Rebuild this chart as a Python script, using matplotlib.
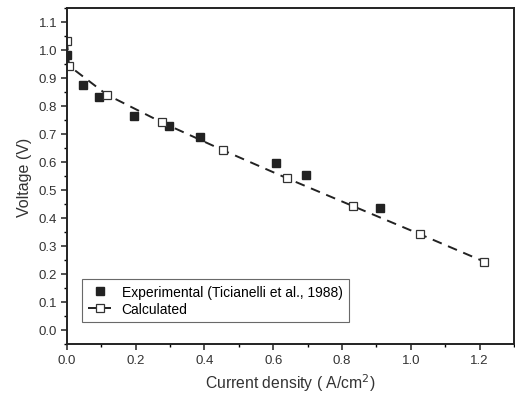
import matplotlib
matplotlib.use("Agg")
import matplotlib.pyplot as plt
from matplotlib.ticker import MultipleLocator

plt.rcParams['font.family'] = ['Liberation Sans', 'DejaVu Sans']

# experimental points (Ticianelli et al., 1988)
exp_j = [0.0, 0.046, 0.093, 0.194, 0.296, 0.388, 0.609, 0.696, 0.909]
exp_v = [0.982, 0.875, 0.830, 0.765, 0.727, 0.688, 0.595, 0.552, 0.434]

# calculated curve
calc_j = [0.0, 0.006, 0.116, 0.276, 0.455, 0.641, 0.832, 1.026, 1.213]
calc_v = [1.033, 0.943, 0.840, 0.741, 0.641, 0.541, 0.442, 0.342, 0.244]

fig = plt.figure(figsize=(5.15, 4.02), dpi=100)
ax = fig.add_axes([0.130, 0.142, 0.868, 0.836])

ax.plot(exp_j, exp_v, 's', color='#222222', markersize=5.5,
        label='Experimental (Ticianelli et al., 1988)')
ax.plot(calc_j, calc_v, '--s', color='#222222', markerfacecolor='white',
        markeredgecolor='#333333', markersize=6, markeredgewidth=0.9,
        linewidth=1.4, dashes=(5, 3.5), label='Calculated')

ax.set_xlim(0, 1.3)
ax.set_ylim(-0.05, 1.15)
ax.xaxis.set_major_locator(MultipleLocator(0.2))
ax.xaxis.set_minor_locator(MultipleLocator(0.1))
ax.yaxis.set_major_locator(MultipleLocator(0.1))
ax.yaxis.set_minor_locator(MultipleLocator(0.05))
ax.tick_params(which='major', direction='out', length=4.5, width=1.2,
               labelsize=9.5, colors='#333333', pad=2.5)
ax.tick_params(which='minor', direction='out', length=2.5, width=1.0)
for s in ax.spines.values():
    s.set_linewidth(1.4)
    s.set_color('#222222')

ax.set_xlabel('Current density ( A/cm$^2$)', fontsize=11.3, color='#333333', labelpad=4)
ax.set_ylabel('Voltage (V)', fontsize=11.5, color='#333333', labelpad=5)

leg = ax.legend(loc='lower left', bbox_to_anchor=(0.034, 0.065), fontsize=10,
                frameon=True, fancybox=False, edgecolor='#444444',
                handlelength=1.6, handletextpad=0.8, borderpad=0.45,
                labelspacing=0.2, borderaxespad=0)
leg.get_frame().set_linewidth(0.8)

fig.savefig('out.png', dpi=100)
